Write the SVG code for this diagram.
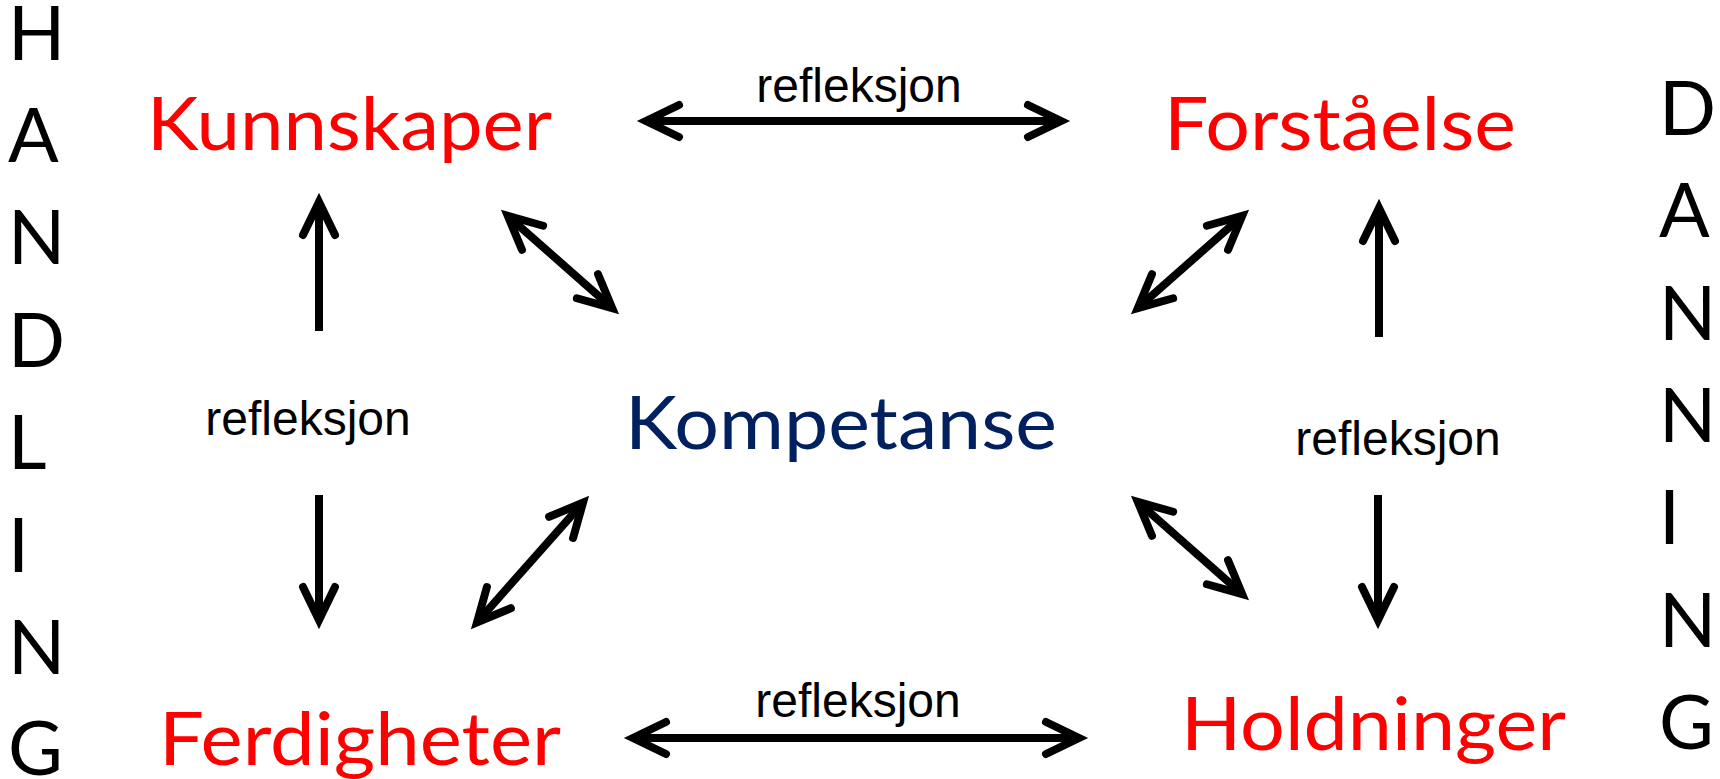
<svg xmlns="http://www.w3.org/2000/svg" width="1720" height="779" viewBox="0 0 1720 779">
<style>
.node{font-family:Lato,"Open Sans","Noto Sans",sans-serif;font-size:74px;fill:#FF0000}
.center{fill:#002060}
.side{font-family:Lato,"Open Sans","Noto Sans",sans-serif;font-size:75px;fill:#000}
.lbl{font-family:"Liberation Sans",Arial,sans-serif;font-size:48px;fill:#000;text-anchor:middle}
.arr{stroke:#000;stroke-width:8;fill:none}
</style>
<defs>
<marker id="head" markerUnits="userSpaceOnUse" viewBox="-50 -25 70 50" refX="0" refY="0" markerWidth="70" markerHeight="50" orient="auto-start-reverse" overflow="visible">
<path d="M -33 -16 L 0 0 L -33 16" fill="none" stroke="#000" stroke-width="8" stroke-linecap="round" stroke-linejoin="miter" stroke-miterlimit="10"/>
</marker>
</defs>
<rect width="1720" height="779" fill="#fff"/>

<g id="handling">
<text class="side" x="8" y="60">H</text>
<text class="side" x="8" y="162">A</text>
<text class="side" x="8" y="264">N</text>
<text class="side" x="8" y="367">D</text>
<text class="side" x="8" y="469">L</text>
<text class="side" x="8" y="572">I</text>
<text class="side" x="8" y="674">N</text>
<text class="side" x="8" y="775">G</text>
</g>
<g id="danning">
<text class="side" x="1659" y="135">D</text>
<text class="side" x="1659" y="237">A</text>
<text class="side" x="1659" y="340">N</text>
<text class="side" x="1659" y="442">N</text>
<text class="side" x="1659" y="544">I</text>
<text class="side" x="1659" y="647">N</text>
<text class="side" x="1659" y="749">G</text>
</g>

<g id="kunnskaper"><text class="node" x="349.5" y="150" text-anchor="middle" textLength="405" lengthAdjust="spacingAndGlyphs">Kunnskaper</text></g>
<g id="forstaelse"><text class="node" x="1340" y="150" text-anchor="middle" textLength="352" lengthAdjust="spacingAndGlyphs">Forståelse</text></g>
<g id="kompetanse"><text class="node center" x="841" y="449" text-anchor="middle" textLength="432" lengthAdjust="spacingAndGlyphs">Kompetanse</text></g>
<g id="ferdigheter"><text class="node" x="360" y="765" text-anchor="middle" textLength="402" lengthAdjust="spacingAndGlyphs">Ferdigheter</text></g>
<g id="holdninger"><text class="node" x="1373.5" y="750" text-anchor="middle" textLength="385" lengthAdjust="spacingAndGlyphs">Holdninger</text></g>

<g id="connectors">
<line class="arr" x1="646" y1="121" x2="1061" y2="121" marker-start="url(#head)" marker-end="url(#head)"/>
<line class="arr" x1="633" y1="738" x2="1079" y2="738" marker-start="url(#head)" marker-end="url(#head)"/>
<line class="arr" x1="319" y1="331" x2="319" y2="202" marker-end="url(#head)"/>
<line class="arr" x1="319" y1="495" x2="319" y2="620" marker-end="url(#head)"/>
<line class="arr" x1="1379" y1="337" x2="1379" y2="208" marker-end="url(#head)"/>
<line class="arr" x1="1378" y1="495" x2="1378" y2="620" marker-end="url(#head)"/>
<line class="arr" x1="507.8" y1="215.9" x2="612.2" y2="308.1" marker-start="url(#head)" marker-end="url(#head)"/>
<line class="arr" x1="1242.2" y1="215.9" x2="1137.8" y2="308.1" marker-start="url(#head)" marker-end="url(#head)"/>
<line class="arr" x1="583" y1="502.7" x2="477" y2="622.3" marker-start="url(#head)" marker-end="url(#head)"/>
<line class="arr" x1="1137.8" y1="501.9" x2="1242.2" y2="594.1" marker-start="url(#head)" marker-end="url(#head)"/>
<text class="lbl" x="859" y="102">refleksjon</text>
<text class="lbl" x="858" y="717">refleksjon</text>
<text class="lbl" x="308" y="435">refleksjon</text>
<text class="lbl" x="1398" y="455">refleksjon</text>
</g>
</svg>
